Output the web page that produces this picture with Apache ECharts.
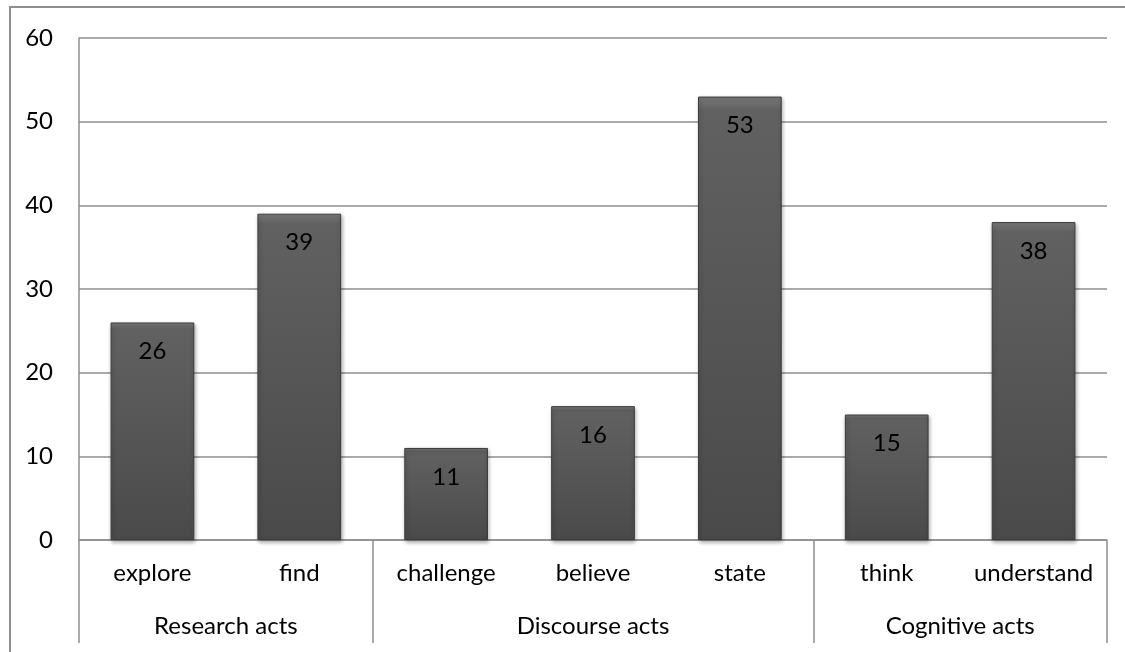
<!DOCTYPE html>
<html>
<head>
<meta charset="utf-8">
<script src="https://cdn.jsdelivr.net/npm/echarts@6/dist/echarts.min.js"></script>
<style>
  html, body { margin: 0; padding: 0; background: #fff; }
  #chart { width: 1125px; height: 652px; }
</style>
</head>
<body>
<div id="chart"></div>
<script>
  // verbs and their counts
  const categories = ['explore', 'find', 'challenge', 'believe', 'state', 'think', 'understand'];
  const counts = [26, 39, 11, 16, 53, 15, 38];
  // groups: name, centre position and boundaries on a 0..7 scale
  const groupNames = ['Research acts', 'Discourse acts', 'Cognitive acts'];
  const groupCenters = [1, 3.5, 6];
  const groupEdges = [0, 2, 5, 7];
  const yTicks = [0, 10, 20, 30, 40, 50, 60];

  const font = 'Lato, "Open Sans", sans-serif';
  const fs = 24;
  const lineCol = '#8e8e8e';

  let chart = echarts.init(document.getElementById('chart'));
  chart.setOption({
    animation: false,
    graphic: [{
      type: 'rect',
      shape: { x: 10, y: 7, width: 1200, height: 700 },
      style: { fill: 'none', stroke: lineCol, lineWidth: 2 }
    }],
    grid: { left: 79, top: 38, right: 18, bottom: 112 },
    xAxis: [
      {
        type: 'category',
        data: categories,
        position: 'bottom',
        axisLine: { lineStyle: { color: lineCol, width: 1.5 } },
        axisTick: { show: false },
        axisLabel: {
          color: '#000', fontSize: fs, fontFamily: font, margin: 21,
          interval: 0, hideOverlap: false
        }
      },
      {
        type: 'value',
        min: 0,
        max: 7,
        position: 'bottom',
        splitLine: { show: false },
        axisLine: { show: false },
        axisTick: {
          show: true,
          length: 103,
          customValues: groupEdges,
          lineStyle: { color: lineCol, width: 1.5 }
        },
        axisLabel: {
          customValues: groupCenters,
          color: '#000', fontSize: fs, fontFamily: font, margin: 74,
          formatter: function (v) {
            return groupNames[groupCenters.indexOf(v)];
          }
        }
      }
    ],
    yAxis: {
      type: 'value',
      min: yTicks[0],
      max: yTicks[yTicks.length - 1],
      interval: 10,
      axisLine: { show: true, lineStyle: { color: lineCol, width: 1.5 } },
      axisTick: { show: false },
      splitLine: { lineStyle: { color: lineCol, width: 1.5 } },
      axisLabel: { color: '#000', fontSize: fs, fontFamily: font, margin: 26 }
    },
    series: [{
      type: 'bar',
      xAxisIndex: 0,
      data: counts,
      barWidth: '57%',
      itemStyle: {
        color: new echarts.graphic.LinearGradient(0, 0, 0, 1, [
          { offset: 0, color: '#7c7c7c' },
          { offset: 0.03, color: '#616161' },
          { offset: 1, color: '#4a4a4a' }
        ]),
        borderColor: '#3c3c3c',
        borderWidth: 1,
        shadowColor: 'rgba(0,0,0,0.35)',
        shadowBlur: 4,
        shadowOffsetX: 1,
        shadowOffsetY: 2
      },
      label: {
        show: true,
        position: 'insideTop',
        distance: 17,
        color: '#000',
        fontSize: fs,
        fontFamily: font
      }
    }]
  });
</script>
</body>
</html>
